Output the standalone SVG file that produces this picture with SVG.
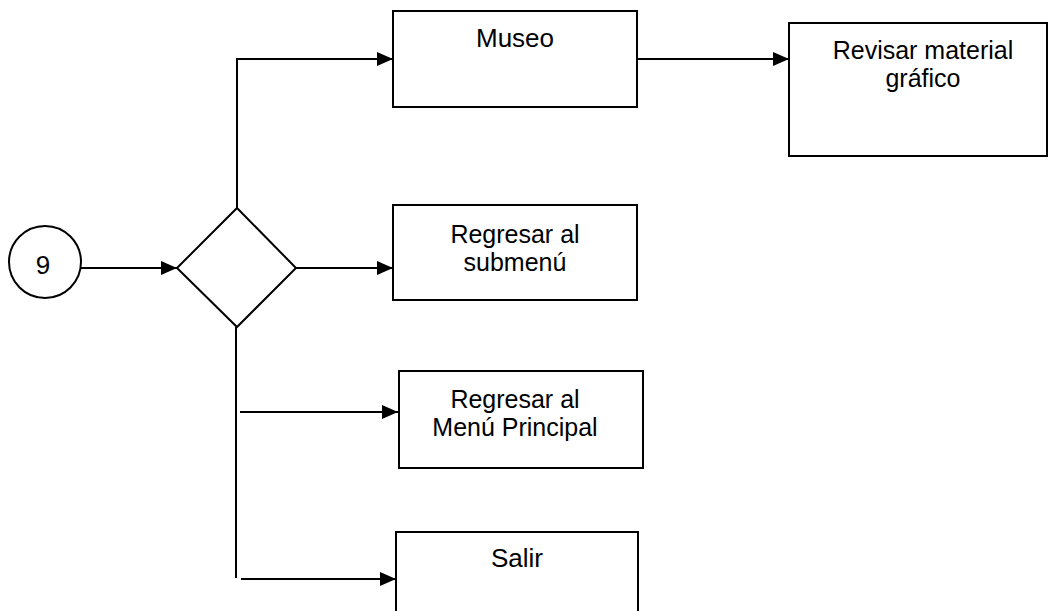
<svg xmlns="http://www.w3.org/2000/svg" width="1049" height="611" viewBox="0 0 1049 611">
  <style>
    .box { fill: #ffffff; stroke: #000000; stroke-width: 2; }
    .wire { fill: none; stroke: #000000; stroke-width: 2; }
    .label { font-family: "Liberation Sans", Arial, sans-serif; font-size: 25px; fill: #000000; text-anchor: middle; }
    .big { font-size: 26px; }
  </style>
  <defs>
    <marker id="arrow" viewBox="0 0 16 14" refX="16" refY="7" markerWidth="16" markerHeight="14" markerUnits="userSpaceOnUse" orient="auto">
      <path d="M0,0 L16,7 L0,14 Z" fill="#000000"/>
    </marker>
  </defs>
  <rect width="1049" height="611" fill="#ffffff"/>

  <!-- connectors -->
  <g id="connectors">
    <path class="wire" d="M81,268 H177" marker-end="url(#arrow)"/>
    <path class="wire" d="M237,208 V59 H393" marker-end="url(#arrow)"/>
    <path class="wire" d="M637,59 H789" marker-end="url(#arrow)"/>
    <path class="wire" d="M296,268 H393" marker-end="url(#arrow)"/>
    <path class="wire" d="M236,327 V578"/>
    <path class="wire" d="M240,412 H398" marker-end="url(#arrow)"/>
    <path class="wire" d="M241,579 H396" marker-end="url(#arrow)"/>
  </g>

  <!-- connector 9 -->
  <g id="node-start">
    <circle class="box" cx="45" cy="262" r="36"/>
    <text class="label big" x="43" y="274">9</text>
  </g>

  <!-- decision -->
  <g id="node-decision">
    <polygon class="box" points="177,268 237,208 296,268 237,327"/>
  </g>

  <g id="node-museo">
    <rect class="box" x="393" y="11" width="244" height="96"/>
    <text class="label big" x="515" y="47">Museo</text>
  </g>

  <g id="node-revisar">
    <rect class="box" x="789" y="23" width="258" height="133"/>
    <text class="label" x="923" y="59">Revisar material<tspan x="923" dy="28">gráfico</tspan></text>
  </g>

  <g id="node-submenu">
    <rect class="box" x="393" y="205" width="244" height="95"/>
    <text class="label" x="515" y="243">Regresar al<tspan x="515" dy="28">submenú</tspan></text>
  </g>

  <g id="node-menu">
    <rect class="box" x="399" y="371" width="244" height="97"/>
    <text class="label" x="515" y="408">Regresar al<tspan x="515" dy="28">Menú Principal</tspan></text>
  </g>

  <g id="node-salir">
    <rect class="box" x="396" y="532" width="242" height="90"/>
    <text class="label big" x="517" y="567">Salir</text>
  </g>
</svg>
